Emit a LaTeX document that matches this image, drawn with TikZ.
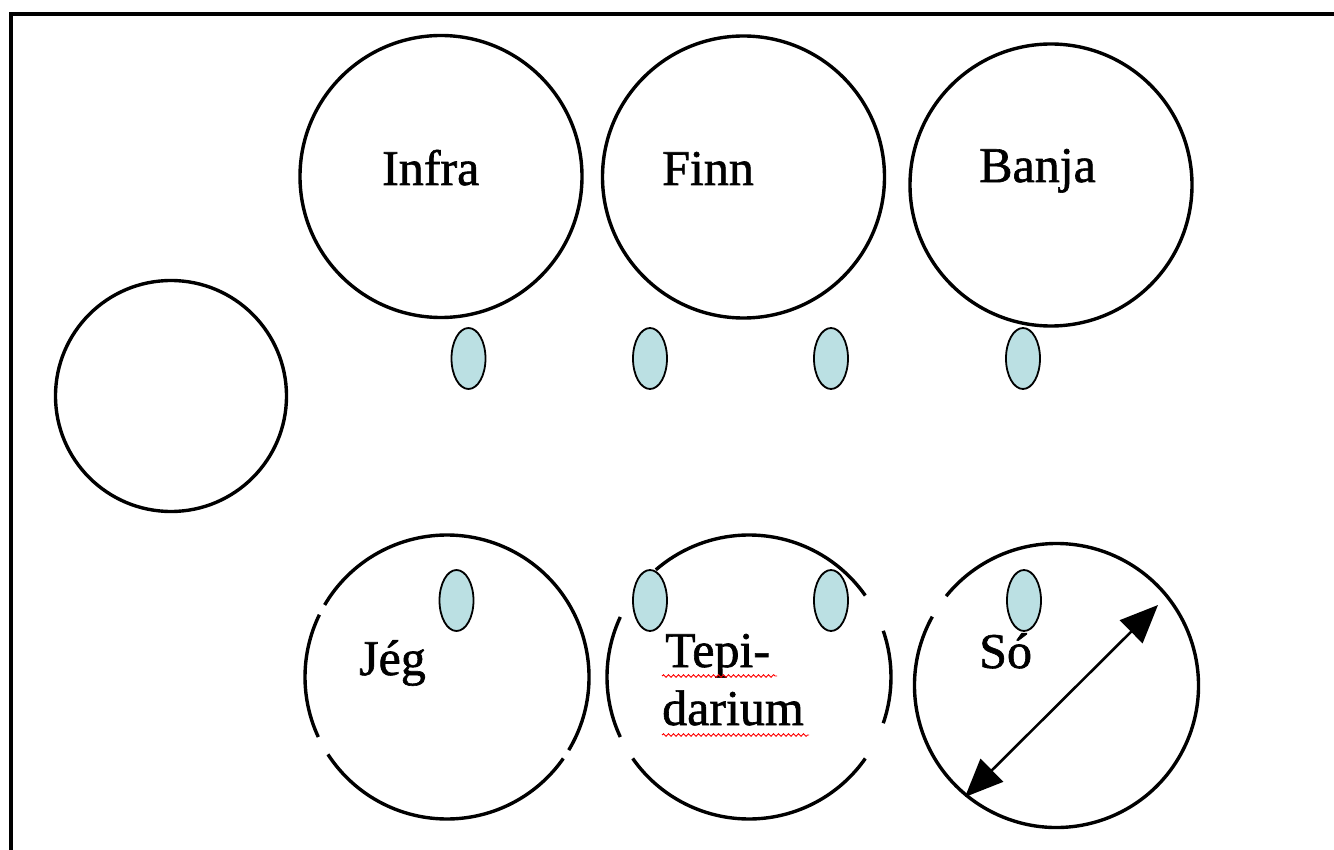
\documentclass[tikz,border=0pt]{standalone}
\usepackage{fontspec}
\setmainfont{Liberation Serif}
\newfontfamily\labelfont[FakeBold=1.2]{Liberation Serif}
\usetikzlibrary{shapes.geometric,arrows.meta,decorations.pathmorphing}
\definecolor{pool}{RGB}{187,224,227}
\begin{document}
\begin{tikzpicture}[x=1pt,y=1pt,
  room/.style={circle,draw,line width=3.4pt,inner sep=0pt},
  ring/.style={line width=3.4pt},
  door/.style={ellipse,draw,line width=1.8pt,fill=pool,minimum width=34pt,minimum height=61pt,inner sep=0pt},
  lbl/.style={anchor=base west,inner sep=0pt,font=\labelfont\fontsize{50}{58}\selectfont},
  wavy/.style={red,line width=0.9pt,decorate,decoration={snake,segment length=5pt,amplitude=1.3pt}},
  frame/.style={line width=3.4pt}]
\useasboundingbox (0,0) rectangle (1334,-850);
\fill[white] (0,0) rectangle (1334,-850);
% frame
\coordinate (fb) at (11,-860);
\coordinate (fc) at (11,-14);
\coordinate (fr) at (1345,-14);
\draw[frame] (fb) -- (fc) -- (fr);
% full circles
\node[room,minimum size=282pt] (infra) at (441,-176.5) {};
\node[room,minimum size=282pt] (finn) at (743.5,-177) {};
\node[room,minimum size=282pt] (banja) at (1051,-185) {};
\node[room,minimum size=231pt] (lobby) at (171,-396) {};
% broken circles
\coordinate (jeg) at (447,-677);
\coordinate (tepi) at (749,-677);
\coordinate (so) at (1056.5,-685.5);
\draw[ring] ([shift={(154:142)}]jeg) arc[start angle=154,end angle=205,radius=142];
\draw[ring] ([shift={(213:142)}]jeg) arc[start angle=213,end angle=325,radius=142];
\draw[ring] ([shift={(329:142)}]jeg) arc[start angle=329,end angle=509.5,radius=142];
\draw[ring] ([shift={(155:142)}]tepi) arc[start angle=155,end angle=205,radius=142];
\draw[ring] ([shift={(215:142)}]tepi) arc[start angle=215,end angle=325,radius=142];
\draw[ring] ([shift={(341:142)}]tepi) arc[start angle=341,end angle=379,radius=142];
\draw[ring] ([shift={(35:142)}]tepi) arc[start angle=35,end angle=131,radius=142];
\draw[ring] ([shift={(151:142)}]so) arc[start angle=151,end angle=501,radius=142];
% doors
\node[door] (d1) at (468.5,-358.5) {};
\node[door] (d2) at (650,-358.5) {};
\node[door] (d3) at (831,-358.5) {};
\node[door] (d4) at (1023,-358.5) {};
\node[door] (d5) at (456.5,-600.5) {};
\node[door] (d6) at (650,-600.5) {};
\node[door] (d7) at (831,-600.5) {};
\node[door] (d8) at (1024,-600.5) {};
% labels
\node[lbl] (tinfra) at (382,-185) {Infra};
\node[lbl] (tfinn) at (662,-185) {Finn};
\node[lbl] (tbanja) at (979,-182) {Banja};
\node[lbl] (tjeg) at (359,-675) {Jég};
\node[lbl] (ttepi) at (665,-667) {Tepi-};
\node[lbl] (tdar) at (662,-725) {darium};
\node[lbl] (tso) at (979,-668) {Só};
% spell-check underlines
\coordinate (w1a) at (662,-676);
\coordinate (w1b) at (777,-676);
\coordinate (w2a) at (662,-735);
\coordinate (w2b) at (809,-735);
\draw[wavy] (w1a) -- (w1b);
\draw[wavy] (w2a) -- (w2b);
% diameter arrow
\coordinate (a1) at (965,-797);
\coordinate (a2) at (1158,-605);
\draw[line width=2.6pt,{Triangle[length=38pt,width=32pt]}-{Triangle[length=38pt,width=32pt]}] (a1) -- (a2);
\end{tikzpicture}
\end{document}
